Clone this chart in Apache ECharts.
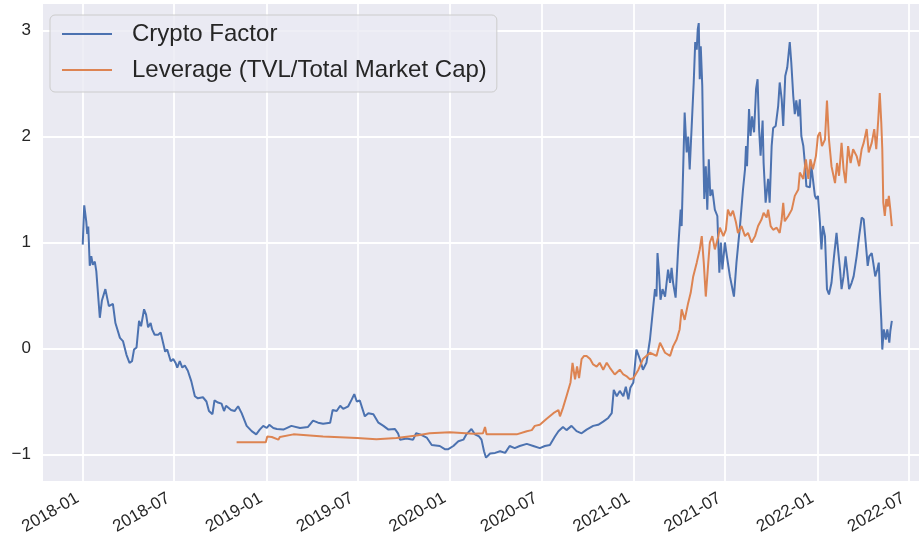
<!DOCTYPE html>
<html>
<head>
<meta charset="utf-8">
<script src="https://cdn.jsdelivr.net/npm/echarts/dist/echarts.min.js"></script>
<style>
html, body {margin: 0; background: #fff;}
#chart {width: 919px; height: 544px;}
</style>
</head>
<body>
<div id="chart"></div>
<script>
// days counted from 2018-01-01
var START = Date.UTC(2018, 0, 1);
var DAY = 86400000;
var xRange = [-79, 1663];
var yRange = [-1.25, 3.25];
var xTicks = ["2018-01", "2018-07", "2019-01", "2019-07", "2020-01", "2020-07", "2021-01", "2021-07", "2022-01", "2022-07"];
var yTicks = [-1, 0, 1, 2, 3];
var seriesNames = ["Crypto Factor", "Leverage (TVL/Total Market Cap)"];

// [day, value]
var cryptoFactor = [
	[0,0.98],[3,1.35],[7,1.20],[9,1.08],[11,1.15],[14,0.78],[17,0.87],[20,0.79],[24,0.82],[27,0.73],
	[30,0.54],[34,0.29],[38,0.45],[45,0.56],[52,0.40],[60,0.42],[65,0.24],[74,0.10],[80,0.07],[87,-0.06],
	[93,-0.135],[98,-0.12],[102,-0.01],[107,0.01],[112,0.26],[116,0.21],[122,0.37],[126,0.32],[130,0.20],[135,0.24],
	[138,0.18],[143,0.13],[150,0.13],[155,0.15],[160,0.05],[164,-0.03],[168,-0.01],[175,-0.12],[180,-0.10],[185,-0.14],
	[188,-0.18],[193,-0.12],[198,-0.18],[203,-0.16],[209,-0.21],[216,-0.31],[223,-0.45],[229,-0.47],[239,-0.46],[246,-0.50],
	[251,-0.59],[258,-0.62],[262,-0.49],[269,-0.51],[276,-0.52],[281,-0.59],[285,-0.54],[295,-0.58],[302,-0.59],[309,-0.545],
	[316,-0.61],[326,-0.73],[329,-0.72],[336,-0.78],[345,-0.81],[352,-0.765],[359,-0.73],[366,-0.75],[371,-0.72],[379,-0.75],
	[386,-0.76],[399,-0.765],[415,-0.73],[432,-0.75],[448,-0.74],[458,-0.68],[468,-0.70],[478,-0.71],[492,-0.70],[497,-0.58],
	[505,-0.59],[512,-0.54],[518,-0.57],[528,-0.545],[535,-0.48],[540,-0.43],[545,-0.50],[551,-0.49],[561,-0.64],[568,-0.61],
	[578,-0.62],[588,-0.70],[598,-0.73],[608,-0.765],[621,-0.76],[627,-0.80],[631,-0.86],[644,-0.85],[657,-0.86],[663,-0.80],
	[671,-0.81],[684,-0.84],[694,-0.91],[710,-0.92],[720,-0.95],[727,-0.95],[737,-0.92],[747,-0.875],[757,-0.86],[763,-0.81],
	[773,-0.76],[780,-0.81],[788,-0.83],[793,-0.86],[798,-0.97],[802,-1.03],[810,-0.99],[820,-0.985],[830,-0.97],[840,-0.985],
	[849,-0.92],[859,-0.94],[869,-0.92],[883,-0.90],[896,-0.92],[909,-0.94],[919,-0.92],[929,-0.91],[939,-0.83],[946,-0.78],
	[955,-0.74],[962,-0.77],[972,-0.73],[982,-0.78],[992,-0.80],[1002,-0.765],[1015,-0.73],[1025,-0.72],[1035,-0.69],[1045,-0.655],
	[1052,-0.61],[1056,-0.39],[1062,-0.45],[1068,-0.40],[1075,-0.45],[1080,-0.36],[1085,-0.48],[1089,-0.37],[1095,-0.32],[1101,-0.01],
	[1108,-0.10],[1114,-0.20],[1121,-0.135],[1128,0.085],[1134,0.37],[1138,0.56],[1141,0.49],[1143,0.90],[1146,0.715],[1149,0.46],
	[1153,0.56],[1158,0.49],[1164,0.745],[1168,0.62],[1171,0.76],[1174,0.62],[1179,0.48],[1184,0.935],[1189,1.31],[1191,1.155],
	[1197,2.225],[1201,1.85],[1204,2.00],[1207,1.69],[1211,2.10],[1215,2.51],[1218,2.89],[1221,2.82],[1223,3.01],[1225,3.07],
	[1227,2.54],[1229,2.85],[1232,2.48],[1234,1.88],[1236,1.41],[1239,1.72],[1242,1.31],[1245,1.785],[1248,1.44],[1252,1.50],
	[1257,1.31],[1262,1.25],[1266,0.715],[1269,1.00],[1272,0.745],[1277,1.00],[1281,0.87],[1287,0.68],[1295,0.49],[1300,0.81],
	[1307,1.155],[1313,1.50],[1317,1.69],[1319,1.91],[1321,1.72],[1325,2.26],[1328,2.005],[1331,2.19],[1335,2.04],[1339,2.45],
	[1342,2.54],[1345,2.07],[1348,1.82],[1352,2.15],[1354,1.75],[1358,1.375],[1363,1.60],[1366,1.375],[1370,1.91],[1373,2.08],
	[1378,2.10],[1383,2.29],[1386,2.51],[1390,2.35],[1393,2.10],[1397,2.57],[1401,2.65],[1406,2.89],[1409,2.70],[1413,2.38],
	[1416,2.21],[1419,2.34],[1423,2.19],[1426,2.35],[1429,2.005],[1433,1.91],[1436,1.75],[1439,1.53],[1446,1.52],[1449,1.72],
	[1452,1.60],[1456,1.44],[1459,1.41],[1462,1.44],[1466,1.19],[1469,0.935],[1472,1.155],[1476,1.06],[1480,0.56],[1484,0.51],
	[1489,0.62],[1494,0.87],[1499,1.09],[1502,0.935],[1506,0.745],[1509,0.56],[1513,0.68],[1517,0.87],[1520,0.745],[1524,0.56],
	[1529,0.62],[1533,0.68],[1539,0.87],[1544,1.06],[1549,1.235],[1553,1.22],[1557,1.00],[1561,0.78],[1564,0.87],[1569,0.90],
	[1572,0.81],[1576,0.68],[1580,0.745],[1583,0.81],[1585,0.56],[1588,0.27],[1590,-0.01],[1593,0.18],[1597,0.085],[1600,0.18],
	[1604,0.055],[1606,0.165],[1609,0.26]
];

var leverage = [
	[306,-0.885],[364,-0.885],[367,-0.83],[376,-0.835],[389,-0.86],[392,-0.835],[419,-0.81],[478,-0.83],[545,-0.845],[584,-0.855],
	[624,-0.845],[664,-0.82],[690,-0.80],[730,-0.79],[777,-0.805],[796,-0.80],[800,-0.74],[803,-0.81],[863,-0.81],[883,-0.78],
	[893,-0.77],[899,-0.73],[909,-0.72],[922,-0.665],[936,-0.61],[946,-0.58],[949,-0.64],[955,-0.56],[962,-0.45],[970,-0.32],
	[974,-0.135],[979,-0.29],[983,-0.17],[987,-0.28],[992,-0.10],[997,-0.07],[1002,-0.07],[1009,-0.10],[1015,-0.15],[1022,-0.17],
	[1028,-0.135],[1035,-0.20],[1042,-0.135],[1048,-0.18],[1058,-0.245],[1068,-0.20],[1075,-0.245],[1081,-0.26],[1088,-0.29],[1095,-0.28],
	[1105,-0.20],[1114,-0.10],[1128,-0.04],[1141,-0.07],[1148,0.055],[1158,-0.04],[1168,-0.07],[1174,0.02],[1181,0.085],[1187,0.18],
	[1191,0.37],[1197,0.27],[1204,0.43],[1209,0.525],[1214,0.68],[1221,0.81],[1227,0.935],[1231,1.06],[1235,0.81],[1239,0.49],
	[1244,0.81],[1247,1.00],[1252,1.06],[1257,0.935],[1264,1.06],[1267,1.14],[1274,1.06],[1279,1.12],[1283,1.31],[1288,1.25],
	[1293,1.30],[1299,1.19],[1303,1.09],[1310,1.155],[1317,1.06],[1323,1.09],[1330,1.00],[1337,1.06],[1343,1.155],[1350,1.22],
	[1354,1.28],[1360,1.235],[1363,1.31],[1368,1.155],[1373,1.12],[1380,1.14],[1386,1.09],[1390,1.22],[1393,1.375],[1396,1.20],
	[1403,1.25],[1410,1.31],[1416,1.44],[1423,1.50],[1426,1.66],[1433,1.60],[1438,1.785],[1443,1.60],[1447,1.785],[1452,1.69],
	[1458,1.815],[1462,2.005],[1466,2.04],[1470,1.91],[1476,1.97],[1480,2.34],[1484,1.97],[1489,1.72],[1496,1.56],[1500,1.75],
	[1504,1.63],[1509,1.94],[1513,1.69],[1517,1.56],[1522,1.91],[1527,1.75],[1532,1.88],[1539,1.815],[1544,1.72],[1549,1.88],
	[1553,1.94],[1559,2.07],[1563,1.85],[1569,1.94],[1574,2.07],[1578,1.88],[1582,2.16],[1585,2.41],[1588,2.13],[1590,1.88],
	[1592,1.375],[1595,1.25],[1598,1.41],[1601,1.34],[1603,1.44],[1606,1.31],[1609,1.155]
];

function toTime(day) {
	return START + day * DAY;
}
function toSeries(list) {
	return list.map(function (p) { return [toTime(p[0]), p[1]]; });
}
function tickTime(label) {
	var parts = label.split("-");
	return Date.UTC(+parts[0], +parts[1] - 1, 1);
}
function pad2(n) {
	return n < 10 ? "0" + n : "" + n;
}

var font = "Liberation Sans, Arial, sans-serif";
var textColor = "#262626";
var xTickTimes = xTicks.map(tickTime);

var myChart = echarts.init(document.getElementById("chart"), null, {renderer: "canvas"});
var option = {
	backgroundColor: "#ffffff",
	animation: false,
	grid: {
		left: 43,
		right: 0,
		top: 4,
		bottom: 63,
		show: true,
		backgroundColor: "#EAEAF2",
		borderWidth: 0
	},
	legend: {
		orient: "vertical",
		left: 50,
		top: 15,
		padding: [7, 10, 10, 12],
		itemGap: 12,
		itemWidth: 50,
		itemHeight: 2,
		icon: "rect",
		backgroundColor: "rgba(234,234,242,0.8)",
		borderColor: "#CCCCCC",
		borderWidth: 1,
		borderRadius: 5,
		textStyle: {fontSize: 24, fontFamily: font, color: textColor, padding: [0, 0, 0, 15]},
		data: seriesNames
	},
	xAxis: {
		type: "value",
		min: toTime(xRange[0]),
		max: toTime(xRange[1]),
		axisLine: {show: false},
		axisTick: {show: false, customValues: xTickTimes},
		splitLine: {show: true, lineStyle: {color: "#ffffff", width: 1.8}},
		axisLabel: {
			customValues: xTickTimes,
			rotate: 30,
			margin: 13,
			padding: [0, 6, 0, 0],
			fontSize: 17,
			fontFamily: font,
			color: textColor,
			formatter: function (v) {
				var d = new Date(v);
				return d.getUTCFullYear() + "-" + pad2(d.getUTCMonth() + 1);
			}
		}
	},
	yAxis: {
		type: "value",
		min: yRange[0],
		max: yRange[1],
		axisLine: {show: false},
		axisTick: {show: false, customValues: yTicks},
		splitLine: {show: true, lineStyle: {color: "#ffffff", width: 1.8}},
		axisLabel: {
			customValues: yTicks,
			margin: 12,
			fontSize: 17,
			fontFamily: font,
			color: textColor,
			formatter: function (v) {
				return v < 0 ? "\u2212" + Math.abs(v) : "" + v;
			}
		}
	},
	series: [{
		name: seriesNames[0],
		type: "line",
		showSymbol: false,
		symbol: "none",
		color: "#4C72B0",
		lineStyle: {width: 2, color: "#4C72B0"},
		data: toSeries(cryptoFactor)
	}, {
		name: seriesNames[1],
		type: "line",
		showSymbol: false,
		symbol: "none",
		color: "#DD8452",
		lineStyle: {width: 2, color: "#DD8452"},
		data: toSeries(leverage)
	}]
};
myChart.setOption(option);
</script>
</body>
</html>
